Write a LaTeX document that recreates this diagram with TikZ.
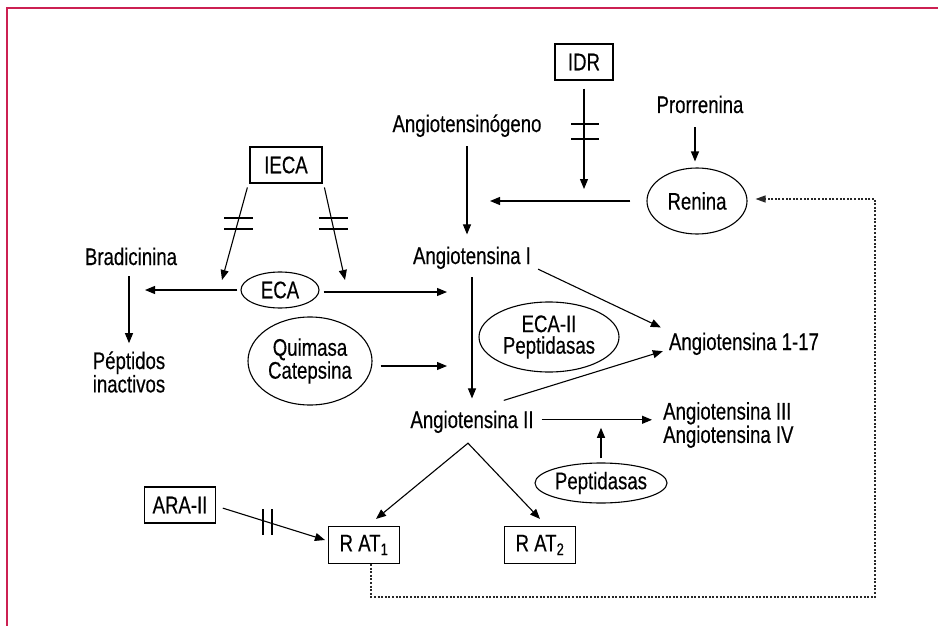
\documentclass[tikz,border=0pt]{standalone}
\usepackage{fontspec}
\setmainfont{Liberation Sans}[FakeStretch=0.775,FakeBold=0.35]
\usetikzlibrary{arrows.meta,shapes.geometric}
\definecolor{framec}{RGB}{204,32,82}
\definecolor{dotc}{RGB}{40,40,40}
\newcommand\dfont{\fontsize{24}{21.5}\selectfont}
\begin{document}
\begin{tikzpicture}[x=1pt,y=-1pt,
  txt/.style={inner sep=0pt,font=\dfont},
  boxn/.style={draw,line width=1.1pt,inner sep=0pt,font=\dfont},
  ell/.style={draw,ellipse,line width=1.1pt,inner sep=0pt,font=\dfont,align=center},
  arr/.style={line width=1.1pt,-{Triangle[length=10pt,width=8pt]}},
  arrtwo/.style={line width=1.1pt,{Triangle[length=10pt,width=8pt]}-{Triangle[length=10pt,width=8pt]}},
  lin/.style={line width=1.1pt},
  dotarr/.style={line width=1.2pt,dotc,dash pattern=on 2pt off 1.6pt,-{Triangle[length=10pt,width=7pt]}}]
\useasboundingbox (0,0) rectangle (938,626);
\draw[framec,line width=1.6pt] (7,626) -- (7,8) -- (938,8);

% nodes
\node[boxn,minimum width=58pt,minimum height=36pt] (idr) at (584,62) {IDR};
\node[txt,anchor=base] (pro) at (700,113) {Prorrenina};
\node[ell,minimum width=100pt,minimum height=66pt] (ren) at (697,201) {Renina};
\node[txt,anchor=base] (agen) at (467,132) {Angiotensinógeno};
\node[boxn,minimum width=72pt,minimum height=36pt] (ieca) at (286,165) {IECA};
\node[txt,anchor=base] (brad) at (131,265) {Bradicinina};
\node[ell,minimum width=78pt,minimum height=36pt] (eca) at (280,290) {ECA};
\node[txt,anchor=base] (ai) at (472,264) {Angiotensina I};
\node[ell,minimum width=140pt,minimum height=70pt] (eca2) at (549,337) {ECA-II\\Peptidasas};
\node[txt,anchor=base] (a117) at (744,350) {Angiotensina 1-17};
\node[ell,minimum width=124pt,minimum height=88pt] (qc) at (310,361) {Quimasa\\Catepsina};
\node[txt,align=center] (pep) at (129,372) {Péptidos\\inactivos};
\node[txt,anchor=base] (aii) at (472,428) {Angiotensina II};
\node[txt,align=left,anchor=west] (aiii) at (663,425) {Angiotensina III\\Angiotensina IV};
\node[ell,minimum width=132pt,minimum height=40pt] (pepd) at (601,483) {Peptidasas};
\node[boxn,minimum width=71pt,minimum height=36pt] (ara) at (180,505) {ARA-II};
\node[boxn,minimum width=71pt,minimum height=37pt] (rat1) at (364,545) {R AT\textsubscript{1}};
\node[boxn,minimum width=71pt,minimum height=37pt] (rat2) at (540,545) {R AT\textsubscript{2}};

\coordinate (tl) at (222,280);
\coordinate (tr) at (345,280);
\coordinate (apex) at ([xshift=-4pt,yshift=-10pt]aii.south);
\coordinate (fb) at (875,597);

% connectors
\draw[arr,shorten <=8pt,shorten >=12pt] (idr.south) -- (idr.south |- ren.west);
\draw[lin] (571,124) -- (599,124) (571,139) -- (599,139);
\draw[arr,shorten <=14pt,shorten >=6pt] ([xshift=-2pt]ren.north |- pro.south) -- ([xshift=-2pt]ren.north);
\draw[arr,shorten <=16pt,shorten >=23pt] (ren.west) -- (ren.west -| agen.south);
\draw[arr,shorten <=9pt,shorten >=12pt] (agen.south) -- (agen.south |- ai.north);

\draw[arr,shorten <=4pt] ([xshift=-1pt]ieca.south west) -- (tl);
\draw[arr,shorten <=4pt] ([xshift=1pt]ieca.south east) -- (tr);
\draw[lin] (224,218) -- (253,218) (224,229) -- (253,229);
\draw[lin] (319,218) -- (348,218) (319,229) -- (348,229);

\draw[arr,shorten <=3pt,shorten >=14pt] (eca.west) -- (eca.west -| brad.south);
\draw[arr,shorten <=4pt,shorten >=25pt] ([yshift=-2pt]eca.east) -- ([yshift=-2pt]eca.east -| ai.south);
\draw[arr,shorten <=11pt,shorten >=8pt] ([xshift=-2pt]brad.south) -- ([xshift=-2pt]brad.south |- pep.north);
\draw[arr,shorten <=8pt,shorten >=25pt] ([yshift=-5pt]qc.east) -- ([yshift=-5pt]qc.east -| ai.south);

\draw[arr,shorten <=8pt,shorten >=12pt] (ai.south) -- (ai.south |- aii.north);
\draw[arr] ([xshift=7pt]ai.south east) -- ([xshift=-8pt,yshift=5pt]a117.north west);
\draw[arr] ([xshift=-30pt,yshift=10pt]aii.north east) -- ([xshift=-6pt,yshift=4pt]a117.south west);
\draw[arr,shorten <=8pt,shorten >=11pt] ([yshift=2pt]aii.east) -- ([yshift=2pt]aii.east -| aiii.west);
\draw[arr,shorten <=4pt,shorten >=6pt] (pepd.north) -- (pepd.north |- aii.east);

\draw[arrtwo,line join=miter] ([xshift=12pt,yshift=7pt]rat1.north) -- (apex) -- ([yshift=7pt]rat2.north);

\draw[arr,shorten <=7pt] ([yshift=-1pt]ara.east) -- ([xshift=-3pt,yshift=5pt]rat1.west);
\draw[lin] (263,509) -- (263,535) (272,509) -- (272,535);

\draw[dotarr,shorten >=8pt] ([xshift=7pt]rat1.south) |- (fb) |- ([yshift=2pt]ren.east);
\end{tikzpicture}
\end{document}
